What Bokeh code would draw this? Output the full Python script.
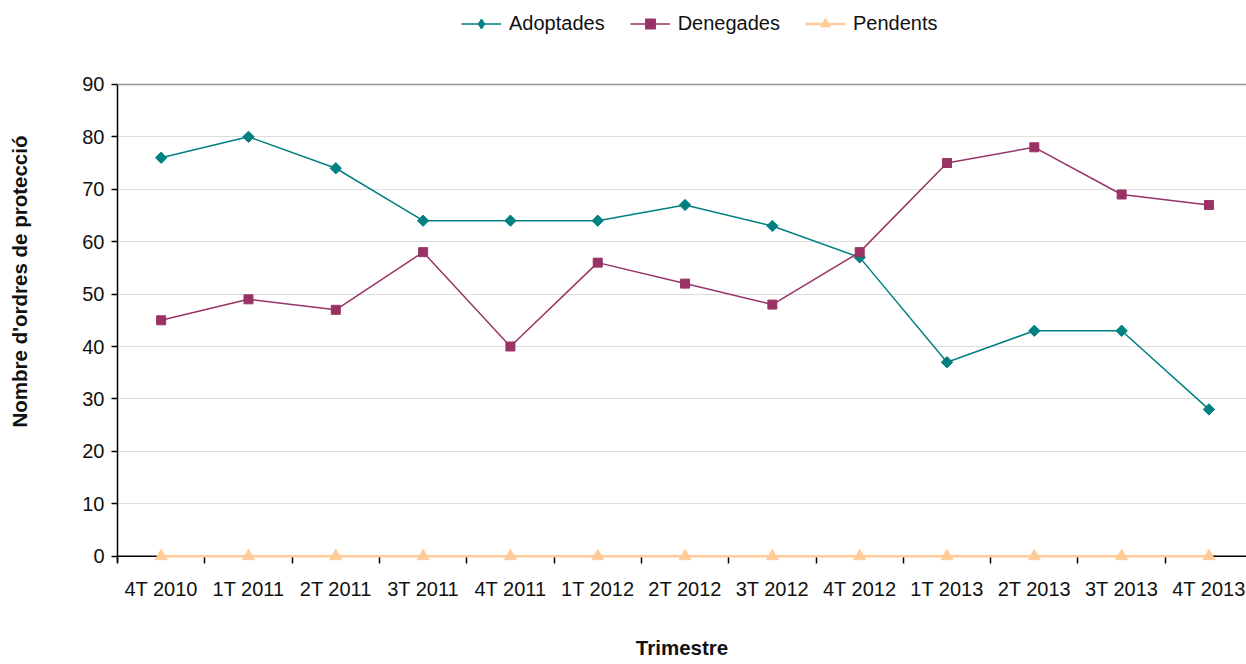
from bokeh.plotting import figure
from bokeh.models import (Range1d, FixedTicker, Span, Legend, LegendItem)
from bokeh.embed import file_html
from bokeh.resources import INLINE

categories = ["4T 2010", "1T 2011", "2T 2011", "3T 2011", "4T 2011", "1T 2012", "2T 2012",
              "3T 2012", "4T 2012", "1T 2013", "2T 2013", "3T 2013", "4T 2013"]
adoptades = [76, 80, 74, 64, 64, 64, 67, 63, 57, 37, 43, 43, 28]
denegades = [45, 49, 47, 58, 40, 56, 52, 48, 58, 75, 78, 69, 67]
pendents = [0, 0, 0, 0, 0, 0, 0, 0, 0, 0, 0, 0, 0]
y_ticks = [0, 10, 20, 30, 40, 50, 60, 70, 80, 90]

FONT = "Liberation Sans"
TEAL = "#008080"
PLUM = "#993366"
PEACH = "#FFCC99"
TXT = "#111111"

xs = [i + 0.5 for i in range(len(categories))]

p = figure(width=1246, height=664, output_backend="svg", toolbar_location=None,
           x_range=Range1d(0, 12.93), y_range=Range1d(-1.2, 106.0),
           min_border_left=117, min_border_right=0, min_border_top=0, min_border_bottom=102)
p.outline_line_color = None
p.background_fill_color = "white"
p.border_fill_color = "white"

# x axis
p.xaxis.ticker = FixedTicker(ticks=xs, minor_ticks=list(range(len(categories) + 1)))
p.xaxis.major_label_overrides = {x: c for x, c in zip(xs, categories)}
p.xaxis.major_tick_in = 0
p.xaxis.major_tick_out = 0
p.xaxis.minor_tick_in = 6
p.xaxis.minor_tick_out = 1
p.xaxis.minor_tick_line_color = "black"
p.xaxis.minor_tick_line_width = 1.5
p.xaxis.axis_line_color = None
p.xaxis.major_label_standoff = 14
p.xaxis.major_label_text_font = FONT
p.xaxis.major_label_text_font_size = "20px"
p.xaxis.major_label_text_color = TXT
p.xaxis.axis_label = "Trimestre"
p.xaxis.axis_label_text_font = FONT
p.xaxis.axis_label_text_font_style = "bold"
p.xaxis.axis_label_text_font_size = "20.5px"
p.xaxis.axis_label_text_color = TXT
p.xaxis.axis_label_standoff = 33
p.xgrid.grid_line_color = None

# y axis
p.yaxis.ticker = FixedTicker(ticks=y_ticks)
p.yaxis.bounds = (-1.2, 90)
p.yaxis.major_tick_in = 0
p.yaxis.major_tick_out = 6
p.yaxis.minor_tick_line_color = None
p.yaxis.major_tick_line_color = "black"
p.yaxis.major_tick_line_width = 1.5
p.yaxis.axis_line_color = "black"
p.yaxis.axis_line_width = 1.5
p.yaxis.major_label_standoff = 7
p.yaxis.major_label_text_font = FONT
p.yaxis.major_label_text_font_size = "20px"
p.yaxis.major_label_text_color = TXT
p.yaxis.axis_label = "Nombre d'ordres de protecció"
p.yaxis.axis_label_text_font = FONT
p.yaxis.axis_label_text_font_style = "bold"
p.yaxis.axis_label_text_font_size = "20.5px"
p.yaxis.axis_label_text_color = TXT
p.yaxis.axis_label_standoff = 48
p.ygrid.grid_line_color = "#dddddd"
p.ygrid.grid_line_width = 1
p.ygrid.bounds = (0, 90)

p.add_layout(Span(location=90, dimension="width", line_color="#999999", line_width=1.5))
p.add_layout(Span(location=0, dimension="width", line_color="black", line_width=1.5))

l1 = p.line(xs, adoptades, line_color=TEAL, line_width=1.5)
m1 = p.scatter(xs, adoptades, marker="square", angle=0.785398, size=8,
               fill_color=TEAL, line_color=TEAL)
l2 = p.line(xs, denegades, line_color=PLUM, line_width=1.5)
m2 = p.scatter(xs, denegades, marker="square", size=9, fill_color=PLUM, line_color=PLUM)
l3 = p.line(xs, pendents, line_color=PEACH, line_width=2.5, level="overlay")
m3 = p.scatter(xs, pendents, marker="triangle", size=12, fill_color=PEACH, line_color=PEACH,
               level="overlay")
# diamond swatch for the legend (zero size on the plot; legend sets its own size)
d1 = p.scatter(xs, adoptades, marker="diamond", size=0, fill_color=TEAL, line_color=TEAL)

legend = Legend(items=[LegendItem(label="Adoptades", renderers=[l1, d1]),
                       LegendItem(label="Denegades", renderers=[l2, m2]),
                       LegendItem(label="Pendents", renderers=[l3, m3])],
                orientation="horizontal", location=(344, 526),
                glyph_width=40, glyph_height=25, label_standoff=8, spacing=25,
                padding=0, margin=0, border_line_color=None, background_fill_alpha=0,
                label_text_font=FONT, label_text_font_size="20px", label_text_color=TXT)
p.add_layout(legend, "center")

open("out.html", "w").write(file_html(p, INLINE))
